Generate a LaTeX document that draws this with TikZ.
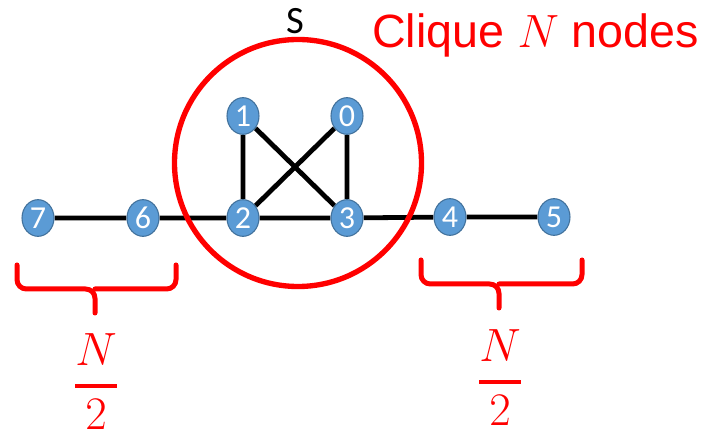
\RequirePackage{fix-cm}
\documentclass[tikz,border=0pt]{standalone}
\usepackage{amsmath}
\usepackage{fontspec}
\usetikzlibrary{shapes.geometric,backgrounds}
\newfontfamily\numfont{Carlito}
\newfontfamily\headfont{Liberation Sans}
\definecolor{nodeblue}{HTML}{5B9BD5}
\definecolor{rimblue}{HTML}{41719C}
\begin{document}
\begin{tikzpicture}[x=.75pt, y=-.75pt, line join=round, line cap=round,
	vertex/.style={ellipse, draw=rimblue, fill=nodeblue, line width=.8pt, minimum width=24pt, minimum height=27.5pt, inner sep=0pt, text=white, font=\numfont\fontsize{24}{24}\selectfont},
	edge/.style={line width=3.6pt},
	brace/.style={red, line width=3.75pt, rounded corners=7pt},
	half/.style={red, inner sep=0pt, font=\fontsize{35}{40}\selectfont}]
	\useasboundingbox (0,0) rectangle (711,438);
	\path
	(38,218) node[vertex] (n7) {7}
	(143,218) node[vertex] (n6) {6}
	(243,218) node[vertex] (n2) {2}
	(347,218) node[vertex] (n3) {3}
	(243,116) node[vertex] (n1) {1}
	(347,116) node[vertex] (n0) {0}
	(450,217) node[vertex] (n4) {4}
	(554,217) node[vertex] (n5) {5}
	;
	\begin{scope}[on background layer]
		\draw[edge] (n7)--(n6)--(n2)--(n3)--(n4)--(n5)
		(n1)--(n2)--(n0)--(n3)--(n1);
		\draw[red, line width=4pt] (298,163) circle[radius=123.5];
	\end{scope}
	\node[font=\numfont\fontsize{29}{30}\selectfont, inner sep=0pt] (S) at (295,21) {S};
	\node[red, anchor=base west, inner sep=0pt, font=\headfont\fontsize{35}{40}\selectfont] (clique) at (372,48) {Clique $N$ nodes};
	% braces under the two tails
	\draw[brace] (17,265) |- (95,289) -- (95,313) (176,265) |- (95,289);
	\draw[brace] (421,260) |- (499,284) -- (499,308) (582,260) |- (499,284);
	\node[half] (lhalf) at (96,382) {$\displaystyle\genfrac{}{}{3pt}{0}{N}{2}$};
	\node[half] (rhalf) at (500,378) {$\displaystyle\genfrac{}{}{3pt}{0}{N}{2}$};
\end{tikzpicture}
\end{document}
